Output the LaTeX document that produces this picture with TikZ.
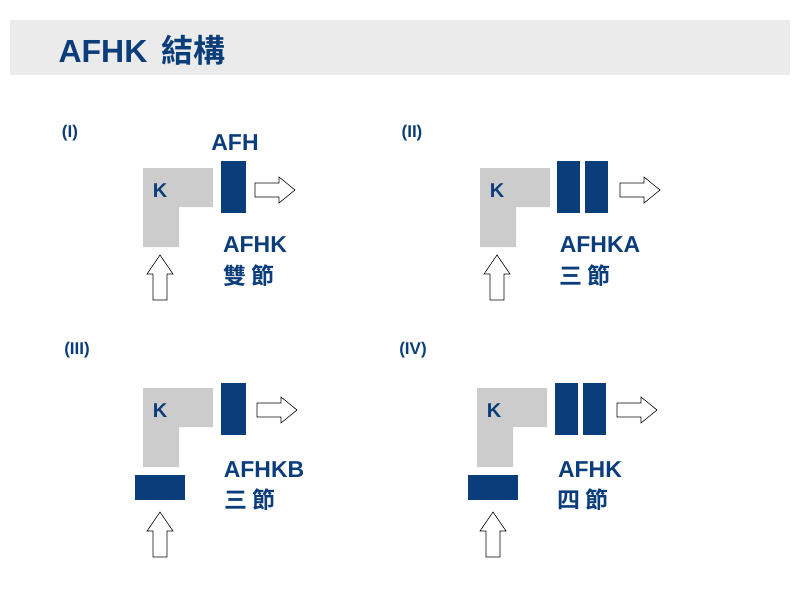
\documentclass[tikz,border=0pt]{standalone}
\usepackage{fontspec}
\setmainfont{Liberation Sans}
\newfontfamily\cjk{Noto Sans CJK TC}[BoldFont={* Bold}]
\definecolor{navy}{HTML}{0B3D7A}
\definecolor{lgray}{HTML}{CCCCCC}
\definecolor{bargray}{HTML}{EBEBEB}
\tikzset{
	lbl/.style={text=navy, font=\bfseries\fontsize{23}{23}\selectfont},
	knode/.style={text=navy, font=\bfseries\fontsize{20}{20}\selectfont},
	num/.style={text=navy, font=\bfseries\fontsize{17}{17}\selectfont},
	part/.style={fill=navy, draw=none},
	rarrow/.pic={\draw[fill=white, line width=0.6pt] (0,-7) -- (24,-7) -- (24,-13) -- (40,0) -- (24,13) -- (24,7) -- (0,7) -- cycle;},
	uarrow/.pic={\draw[fill=white, line width=0.6pt] (-7,0) -- (-7,-26) -- (-13,-26) -- (0,-45) -- (13,-26) -- (7,-26) -- (7,0) -- cycle;}
}
\newcommand{\elbow}[2]{\fill[lgray] (#1,#2) -- ++(70,0) -- ++(0,39) -- ++(-34,0) -- ++(0,40) -- ++(-36,0) -- cycle;}
\begin{document}
\begin{tikzpicture}[x=1pt, y=-1pt]
	\useasboundingbox (0,0) rectangle (800,600);
	\fill[bargray] (10,20) rectangle (790,75);
	\node[anchor=west, text=navy, font=\bfseries\fontsize{32}{32}\selectfont] (title) at (55,50) {AFHK\, {\cjk\bfseries 結構}};
	% (I)
	\node[num] (n1) at (70,133) {(I)};
	\elbow{143}{168}
	\node[knode] (k1) at (160,191) {K};
	\fill[part] (221,161) rectangle (246,213);
	\node[lbl] (afh) at (235,143) {AFH};
	\pic at (255,190) {rarrow};
	\pic at (160,300) {uarrow};
	\node[lbl] (t1) at (255,245) {AFHK};
	\node[lbl] (c1) at (249,276) {\cjk\bfseries 雙 節};
	% (II)
	\node[num] (n2) at (412,133) {(II)};
	\elbow{480}{168}
	\node[knode] (k2) at (497,191) {K};
	\fill[part] (557,161) rectangle (580,213);
	\fill[part] (585,161) rectangle (608,213);
	\pic at (620,190) {rarrow};
	\pic at (497,300) {uarrow};
	\node[lbl] (t2) at (600,245) {AFHKA};
	\node[lbl] (c2) at (585,276) {\cjk\bfseries 三 節};
	% (III)
	\node[num] (n3) at (77,350) {(III)};
	\elbow{143}{388}
	\node[knode] (k3) at (160,411) {K};
	\fill[part] (221,383) rectangle (246,435);
	\pic at (257,410) {rarrow};
	\fill[part] (135,475) rectangle (185,500);
	\pic at (160,557) {uarrow};
	\node[lbl] (t3) at (264,470) {AFHKB};
	\node[lbl] (c3) at (250,500) {\cjk\bfseries 三 節};
	% (IV)
	\node[num] (n4) at (413,350) {(IV)};
	\elbow{477}{388}
	\node[knode] (k4) at (494,411) {K};
	\fill[part] (555,383) rectangle (578,435);
	\fill[part] (583,383) rectangle (606,435);
	\pic at (617,410) {rarrow};
	\fill[part] (468,475) rectangle (518,500);
	\pic at (493,557) {uarrow};
	\node[lbl] (t4) at (590,470) {AFHK};
	\node[lbl] (c4) at (583,500) {\cjk\bfseries 四 節};
\end{tikzpicture}
\end{document}
